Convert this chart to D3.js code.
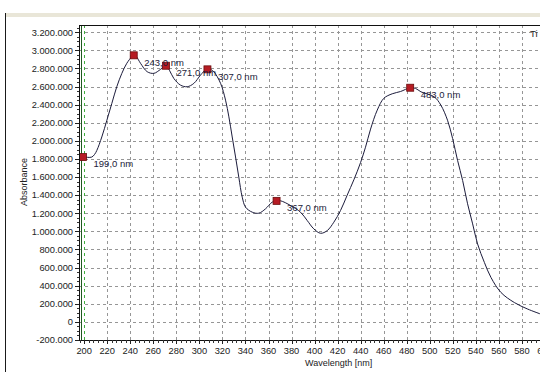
<!DOCTYPE html>
<html>
<head>
<meta charset="utf-8">
<script src="https://cdn.jsdelivr.net/npm/d3@7"></script>
<style>
  html, body { margin: 0; padding: 0; background: #fff; }
  svg { display: block; font-family: Arial, "Liberation Sans", sans-serif; }
</style>
</head>
<body>
<svg id="chart" width="540" height="372"></svg>
<script>
// Absorbance spectrum (wavelength in nm, absorbance in instrument units)
const wavelength = [197, 199, 203, 206.6, 209, 211, 215.3, 219.7, 224, 228.3, 232.7, 237, 241.4, 243, 245,
  248.9, 254.7, 260.5, 266.3, 271, 274, 277.8, 283.6, 289.4, 295.2, 301, 305.3, 307, 309,
  312.5, 318.4, 322.7, 325.6, 328.5, 331.4, 334.2, 337.2, 340.1, 345.9, 351.6, 357.4, 363.2, 367,
  370.4, 379.1, 387.8, 393.6, 399.3, 405.2, 411, 416.7, 422.5, 428.3, 434.1, 439.9, 444.2, 448.6,
  454.4, 460.1, 467.4, 474.6, 483, 487.6, 492.3, 503.8, 509.6, 515.4, 519.8, 524.1, 528.5, 532.8,
  537.2, 541.5, 547.4, 553.1, 561.8, 573.4, 585.1, 596.6];
const absorbance = [1825000, 1821000, 1818000, 1821000, 1850000, 1895000, 2043000, 2228000, 2414000, 2598000, 2746000, 2857000, 2930000, 2945000, 2935000,
  2857000, 2764000, 2746000, 2790000, 2830000, 2780000, 2690000, 2616000, 2598000, 2635000, 2727000, 2783000, 2790000, 2792000,
  2764000, 2635000, 2450000, 2265000, 2043000, 1822000, 1600000, 1378000, 1267000, 1212000, 1201000, 1249000, 1323000, 1337000,
  1338000, 1286000, 1212000, 1120000, 1028000, 979000, 1009000, 1101000, 1230000, 1400000, 1570000, 1760000, 1930000, 2130000,
  2340000, 2470000, 2520000, 2545000, 2587000, 2580000, 2542000, 2487000, 2395000, 2228000, 2026000, 1785000, 1563000, 1305000,
  1083000, 861000, 657000, 491000, 325000, 214000, 141000, 85000];

// Picked peaks
const peakNm = [199, 243, 271, 307, 367, 483];
const peakAbs = [1821000, 2945000, 2830000, 2790000, 1337000, 2587000];

// Axis ticks
const xTicks = [200, 220, 240, 260, 280, 300, 320, 340, 360, 380, 400, 420, 440, 460, 480, 500, 520, 540, 560, 580, 600];
const yTicks = [-200000, 0, 200000, 400000, 600000, 800000, 1000000, 1200000, 1400000, 1600000, 1800000,
  2000000, 2200000, 2400000, 2600000, 2800000, 3000000, 3200000];

const svg = d3.select("#chart");
const W = 540, H = 372;
const plot = { left: 79, top: 25, right: 540, bottom: 340 };

const x = d3.scaleLinear().domain([195.5, 600]).range([plot.left, plot.left + 404.5 * 1.152]);
const y = d3.scaleLinear().domain([-200000, 3280000]).range([plot.bottom, plot.top]);

const loc = d3.formatLocale({ decimal: ",", thousands: ".", grouping: [3], currency: ["", ""], minus: "-" });
const fmtY = loc.format(",d");
const fmtPeak = loc.format(".1f");

// Window frame
svg.append("rect").attr("x", 5).attr("y", 13).attr("width", W - 5).attr("height", 4).attr("fill", "#e9e6d8");
svg.append("line").attr("x1", 5.5).attr("x2", 5.5).attr("y1", 13).attr("y2", H).attr("stroke", "#1a1a1a");

// Clip for the plot area
svg.append("clipPath").attr("id", "plotclip").append("rect")
  .attr("x", plot.left).attr("y", plot.top).attr("width", plot.right - plot.left).attr("height", plot.bottom - plot.top);

const g = svg.append("g").attr("clip-path", "url(#plotclip)");

// Grid
g.selectAll("line.hgrid").data(yTicks.filter(v => v > -200000)).join("line")
  .attr("class", "hgrid")
  .attr("x1", plot.left).attr("x2", plot.right)
  .attr("y1", d => Math.round(y(d)) + 0.5).attr("y2", d => Math.round(y(d)) + 0.5)
  .attr("stroke", "#969696").attr("stroke-dasharray", "3,3");
g.selectAll("line.vgrid").data(xTicks).join("line")
  .attr("class", "vgrid")
  .attr("x1", d => Math.round(x(d)) + 0.5).attr("x2", d => Math.round(x(d)) + 0.5)
  .attr("y1", plot.top).attr("y2", plot.bottom)
  .attr("stroke", d => d === 200 ? "#3fae3f" : "#969696").attr("stroke-dasharray", "3,3");

// Cursor line near the left edge
g.append("line").attr("x1", 81.5).attr("x2", 81.5).attr("y1", plot.top).attr("y2", plot.bottom)
  .attr("stroke", "#1f5a1f").attr("stroke-width", 1);

// Spectrum
const pts = wavelength.map((w, i) => [w, absorbance[i]]);
g.append("path").datum(pts)
  .attr("fill", "none").attr("stroke", "#1c1c3c").attr("stroke-width", 1)
  .attr("d", d3.line().x(d => x(d[0])).y(d => y(d[1])).curve(d3.curveCatmullRom.alpha(0.5)));

// Peak markers and labels
const peaks = peakNm.map((w, i) => ({ w, a: peakAbs[i] }));
g.selectAll("rect.peak").data(peaks).join("rect")
  .attr("class", "peak")
  .attr("x", d => x(d.w) - 3.5).attr("y", d => y(d.a) - 3.5)
  .attr("width", 7).attr("height", 7)
  .attr("fill", "#b61c24").attr("stroke", "#6a0c0c").attr("stroke-width", 0.8);
svg.selectAll("text.peaklbl").data(peaks).join("text")
  .attr("class", "peaklbl")
  .attr("x", d => x(d.w) + 10.5).attr("y", d => y(d.a) + 10.3)
  .attr("font-size", 9.5).attr("fill", "#1c1c3a")
  .text(d => fmtPeak(d.w) + " nm");

// Plot border (top) and axes
svg.append("line").attr("x1", plot.left).attr("x2", plot.right).attr("y1", plot.top + 0.5).attr("y2", plot.top + 0.5).attr("stroke", "#111");
svg.append("line").attr("x1", plot.left + 0.5).attr("x2", plot.left + 0.5).attr("y1", plot.top).attr("y2", plot.bottom).attr("stroke", "#111");
svg.append("line").attr("x1", plot.left).attr("x2", plot.right).attr("y1", plot.bottom + 0.5).attr("y2", plot.bottom + 0.5).attr("stroke", "#111");

// Y axis ticks (major and minor) and labels
const yMinor = d3.range(-200000, 3280001, 50000);
svg.selectAll("line.yminor").data(yMinor).join("line")
  .attr("x1", plot.left - 2).attr("x2", plot.left)
  .attr("y1", d => Math.round(y(d)) + 0.5).attr("y2", d => Math.round(y(d)) + 0.5)
  .attr("stroke", "#333");
svg.selectAll("line.ymajor").data(yTicks).join("line")
  .attr("x1", plot.left - 4).attr("x2", plot.left)
  .attr("y1", d => Math.round(y(d)) + 0.5).attr("y2", d => Math.round(y(d)) + 0.5)
  .attr("stroke", "#222");
svg.selectAll("text.ylbl").data(yTicks).join("text")
  .attr("x", 73).attr("y", d => y(d) + 3.3)
  .attr("text-anchor", "end").attr("font-size", 9.3).attr("fill", "#222")
  .text(d => fmtY(d));

// X axis ticks (major and minor) and labels
const xMinor = d3.range(196, 601, 4);
svg.selectAll("line.xminor").data(xMinor).join("line")
  .attr("x1", d => Math.round(x(d)) + 0.5).attr("x2", d => Math.round(x(d)) + 0.5)
  .attr("y1", plot.bottom).attr("y2", plot.bottom + 3)
  .attr("stroke", "#333");
svg.selectAll("line.xmajor").data(xTicks).join("line")
  .attr("x1", d => Math.round(x(d)) + 0.5).attr("x2", d => Math.round(x(d)) + 0.5)
  .attr("y1", plot.bottom).attr("y2", plot.bottom + 4)
  .attr("stroke", "#222");
svg.selectAll("text.xlbl").data(xTicks).join("text")
  .attr("x", d => x(d)).attr("y", 354)
  .attr("text-anchor", "middle").attr("font-size", 9.3).attr("fill", "#222")
  .text(d => d);

// Axis titles
svg.append("text").attr("transform", "translate(26.5,182) rotate(-90)")
  .attr("text-anchor", "middle").attr("font-size", 9).attr("fill", "#222").text("Absorbance");
svg.append("text").attr("x", 305).attr("y", 366)
  .attr("font-size", 9).attr("fill", "#222").text("Wavelength [nm]");

// Legend heading at the right edge
svg.append("text").attr("x", 530).attr("y", 37).attr("font-size", 9.5).attr("fill", "#222").text("Ti");
</script>
</body>
</html>
